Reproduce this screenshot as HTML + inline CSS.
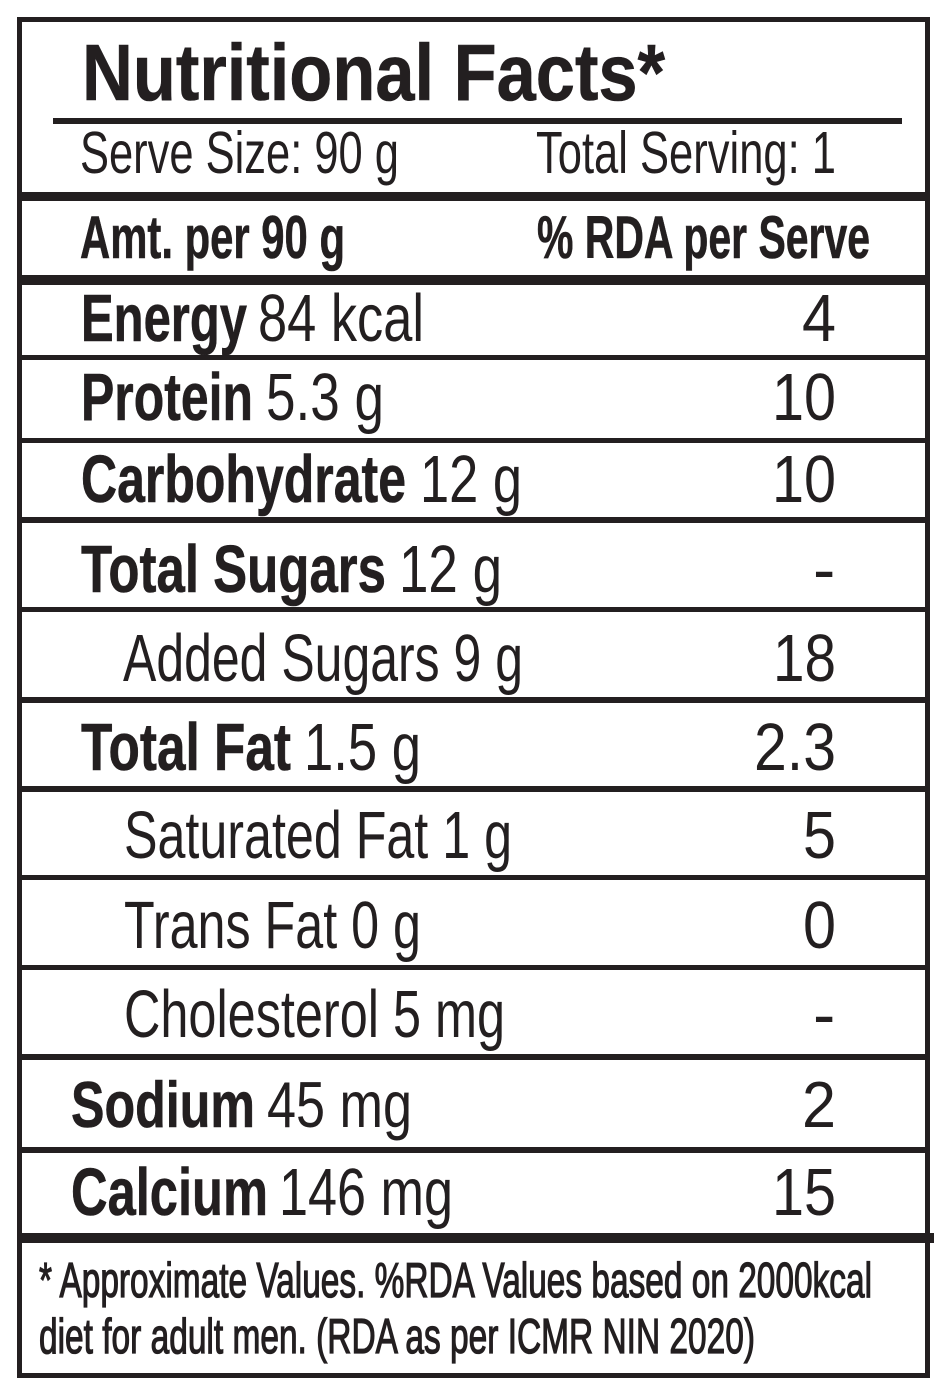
<!DOCTYPE html>
<html>
<head>
<meta charset="utf-8">
<style>
  html, body { margin: 0; padding: 0; background: #ffffff; }
  body { width: 940px; height: 1396px; overflow: hidden; }
  svg { display: block; }
  text { font-family: "Liberation Sans", Arial, sans-serif; fill: #231f20; }
  .b { font-weight: bold; stroke: #231f20; stroke-width: 0.6; }
  .r { font-weight: normal; }
  .ft { font-weight: normal; stroke: #231f20; stroke-width: 1.3; }
</style>
</head>
<body>
<svg width="940" height="1396" viewBox="0 0 940 1396" xmlns="http://www.w3.org/2000/svg">
  <rect x="0" y="0" width="940" height="1396" fill="#ffffff"/>

  <!-- outer border -->
  <rect x="17" y="17" width="913" height="5" fill="#231f20"/>
  <rect x="17" y="17" width="5" height="1361" fill="#231f20"/>
  <rect x="925" y="17" width="5" height="1361" fill="#231f20"/>
  <rect x="17" y="1373" width="913" height="5" fill="#231f20"/>

  <!-- title underline -->
  <rect x="53" y="118" width="849" height="6" fill="#231f20"/>
  <!-- thick lines -->
  <rect x="17" y="192" width="913" height="9" fill="#231f20"/>
  <rect x="17" y="275" width="913" height="10" fill="#231f20"/>
  <!-- row lines -->
  <rect x="17" y="355" width="913" height="5" fill="#231f20"/>
  <rect x="17" y="438" width="913" height="5" fill="#231f20"/>
  <rect x="17" y="517" width="913" height="6" fill="#231f20"/>
  <rect x="17" y="607" width="913" height="5" fill="#231f20"/>
  <rect x="17" y="697" width="913" height="6" fill="#231f20"/>
  <rect x="17" y="786" width="913" height="6" fill="#231f20"/>
  <rect x="17" y="875" width="913" height="5" fill="#231f20"/>
  <rect x="17" y="965" width="913" height="5" fill="#231f20"/>
  <rect x="17" y="1054" width="913" height="6" fill="#231f20"/>
  <rect x="17" y="1147" width="913" height="6" fill="#231f20"/>
  <rect x="17" y="1233" width="917" height="10" fill="#231f20"/>

  <!-- header -->
  <text class="b" x="82" y="100" font-size="80" textLength="583" lengthAdjust="spacingAndGlyphs">Nutritional Facts*</text>
  <text class="r" x="80" y="173" font-size="59" textLength="319" lengthAdjust="spacingAndGlyphs">Serve Size: 90 g</text>
  <text class="r" x="536" y="173" font-size="59" textLength="300" lengthAdjust="spacingAndGlyphs">Total Serving: 1</text>
  <text class="b" x="80" y="258" font-size="60" textLength="265" lengthAdjust="spacingAndGlyphs">Amt. per 90 g</text>
  <text class="b" x="537" y="258" font-size="60" textLength="333" lengthAdjust="spacingAndGlyphs">% RDA per Serve</text>

  <!-- rows: left -->
  <text class="b" x="81" y="341" font-size="67" textLength="166" lengthAdjust="spacingAndGlyphs">Energy</text>
  <text class="r" x="258" y="341" font-size="67" textLength="166" lengthAdjust="spacingAndGlyphs">84 kcal</text>

  <text class="b" x="81" y="420" font-size="67" textLength="172" lengthAdjust="spacingAndGlyphs">Protein</text>
  <text class="r" x="266" y="420" font-size="67" textLength="118" lengthAdjust="spacingAndGlyphs">5.3 g</text>

  <text class="b" x="81" y="502" font-size="67" textLength="325" lengthAdjust="spacingAndGlyphs">Carbohydrate</text>
  <text class="r" x="420" y="502" font-size="67" textLength="102" lengthAdjust="spacingAndGlyphs">12 g</text>

  <text class="b" x="81" y="592" font-size="67" textLength="305" lengthAdjust="spacingAndGlyphs">Total Sugars</text>
  <text class="r" x="399" y="592" font-size="67" textLength="103" lengthAdjust="spacingAndGlyphs">12 g</text>

  <text class="r" x="123" y="681" font-size="67" textLength="400" lengthAdjust="spacingAndGlyphs">Added Sugars 9 g</text>

  <text class="b" x="81" y="770" font-size="67" textLength="210" lengthAdjust="spacingAndGlyphs">Total Fat</text>
  <text class="r" x="304" y="770" font-size="67" textLength="117" lengthAdjust="spacingAndGlyphs">1.5 g</text>

  <text class="r" x="124" y="858" font-size="67" textLength="388" lengthAdjust="spacingAndGlyphs">Saturated Fat 1 g</text>

  <text class="r" x="124" y="948" font-size="67" textLength="297" lengthAdjust="spacingAndGlyphs">Trans Fat 0 g</text>

  <text class="r" x="124" y="1037" font-size="67" textLength="381" lengthAdjust="spacingAndGlyphs">Cholesterol 5 mg</text>

  <text class="b" x="71" y="1127" font-size="65" textLength="184" lengthAdjust="spacingAndGlyphs">Sodium</text>
  <text class="r" x="267" y="1127" font-size="65" textLength="145" lengthAdjust="spacingAndGlyphs">45 mg</text>

  <text class="b" x="71" y="1215" font-size="67" textLength="197" lengthAdjust="spacingAndGlyphs">Calcium</text>
  <text class="r" x="279" y="1215" font-size="67" textLength="174" lengthAdjust="spacingAndGlyphs">146 mg</text>

  <!-- rows: right -->
  <text class="r" x="802" y="341" font-size="67" textLength="34" lengthAdjust="spacingAndGlyphs">4</text>
  <text class="r" x="772" y="420" font-size="67" textLength="64" lengthAdjust="spacingAndGlyphs">10</text>
  <text class="r" x="772" y="502" font-size="67" textLength="64" lengthAdjust="spacingAndGlyphs">10</text>
  <text class="r" x="813" y="592" font-size="67">-</text>
  <text class="r" x="773" y="681" font-size="67" textLength="63" lengthAdjust="spacingAndGlyphs">18</text>
  <text class="r" x="754" y="770" font-size="67" textLength="82" lengthAdjust="spacingAndGlyphs">2.3</text>
  <text class="r" x="803" y="858" font-size="67" textLength="33" lengthAdjust="spacingAndGlyphs">5</text>
  <text class="r" x="803" y="948" font-size="67" textLength="33" lengthAdjust="spacingAndGlyphs">0</text>
  <text class="r" x="813" y="1037" font-size="67">-</text>
  <text class="r" x="802" y="1127" font-size="65" textLength="34" lengthAdjust="spacingAndGlyphs">2</text>
  <text class="r" x="772" y="1215" font-size="67" textLength="64" lengthAdjust="spacingAndGlyphs">15</text>

  <!-- footnote -->
  <text class="ft" x="39" y="1297" font-size="49" textLength="833" lengthAdjust="spacingAndGlyphs">* Approximate Values. %RDA Values based on 2000kcal</text>
  <text class="ft" x="39" y="1353" font-size="49" textLength="716" lengthAdjust="spacingAndGlyphs">diet for adult men. (RDA as per ICMR NIN 2020)</text>
</svg>
</body>
</html>
